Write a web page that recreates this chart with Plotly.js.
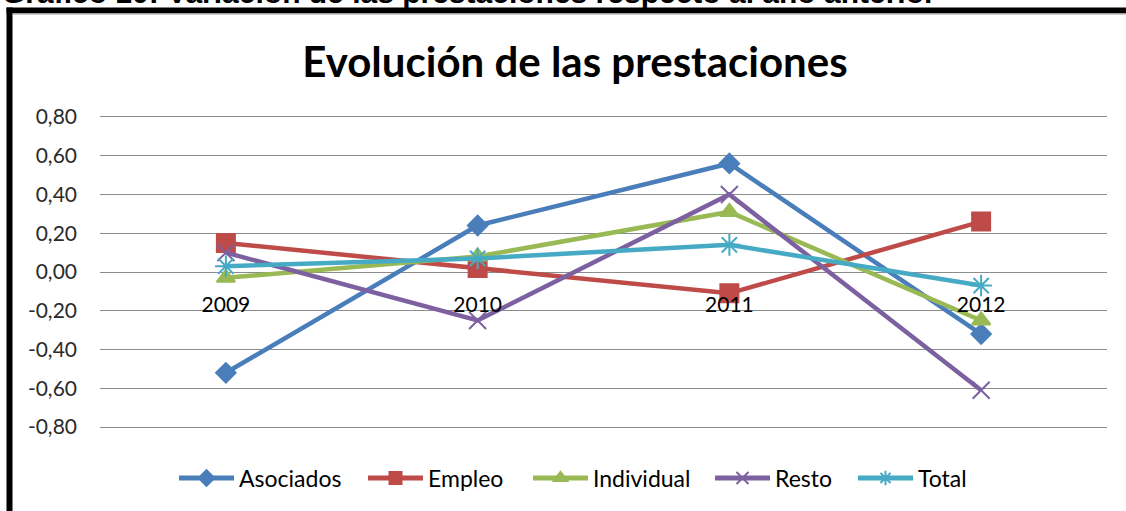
<!DOCTYPE html>
<html>
<head>
<meta charset="utf-8">
<script src="https://cdn.plot.ly/plotly-3.0.1.min.js"></script>
<style>html,body{margin:0;padding:0;background:#fff;}#chart{width:1126px;height:511px;}</style>
</head>
<body>
<div id="chart"></div>
<script>
const years = ['2009', '2010', '2011', '2012'];
const asociados = [-0.52, 0.24, 0.56, -0.32];
const empleo = [0.15, 0.02, -0.11, 0.26];
const individual = [-0.03, 0.08, 0.31, -0.25];
const resto = [0.10, -0.25, 0.40, -0.61];
const total = [0.03, 0.07, 0.14, -0.07];
const seriesNames = ['Asociados', 'Empleo', 'Individual', 'Resto', 'Total'];
const yTickVals = [-0.8, -0.6, -0.4, -0.2, 0, 0.2, 0.4, 0.6, 0.8];
const yTickLabels = ['-0,80', '-0,60', '-0,40', '-0,20', '0,00', '0,20', '0,40', '0,60', '0,80'];
const chartTitle = 'Evolución de las prestaciones';
const captionText = 'Gráfico 10: Variación de las prestaciones respecto al año anterior';

const colors = ['#4A7EBB', '#BE4B48', '#98B954', '#7D60A0', '#46AAC5'];
const symbols = ['diamond', 'square', 'triangle-up', 'x-thin-open', 'asterisk-open'];
const sizes = [15, 18, 16, 17, 18];
const values = [asociados, empleo, individual, resto, total];
const legendIds = ['legend', 'legend2', 'legend3', 'legend4', 'legend5'];
const legendLeftPx = [174, 363, 528, 710, 853];

const traces = values.map((v, i) => ({
  type: 'scatter',
  mode: 'lines+markers',
  name: seriesNames[i],
  legend: legendIds[i],
  x: years,
  y: v,
  line: {color: colors[i], width: 4.5},
  marker: {symbol: symbols[i], size: sizes[i], color: colors[i], line: {color: colors[i], width: 2}}
}));

const W = 1126, H = 511, L = 100, R = 19, T = 115, B = 82;
const pw = W - L - R, ph = H - T - B;
const px2x = p => (p - L) / pw;
const py2y = p => (H - B - p) / ph;

const layout = {
  width: W, height: H,
  margin: {l: L, r: R, t: T, b: B},
  paper_bgcolor: '#ffffff',
  plot_bgcolor: '#ffffff',
  font: {family: 'Lato, sans-serif', size: 21, color: '#1a1a1a'},
  title: {
    text: chartTitle,
    font: {family: 'Lato, sans-serif', size: 42, color: '#000000', weight: 'bold'},
    xref: 'container', yref: 'container',
    x: 575 / W, xanchor: 'center',
    y: 1 - 62 / H, yanchor: 'middle'
  },
  xaxis: {
    type: 'category',
    range: [-0.5, 3.5],
    anchor: 'free',
    position: 0.5,
    showgrid: false,
    zeroline: false,
    showline: false,
    ticks: '',
    ticklabelstandoff: 18,
    tickfont: {family: 'Lato, sans-serif', size: 21, color: '#000000'}
  },
  yaxis: {
    range: [-0.81, 0.81],
    tickvals: yTickVals,
    ticktext: yTickLabels,
    showgrid: true,
    gridcolor: '#8c8c8c',
    gridwidth: 1.2,
    zeroline: false,
    showline: false,
    ticks: '',
    ticklabelstandoff: 22,
    tickfont: {family: 'Lato, sans-serif', size: 21, color: '#2a2a2a'}
  },
  showlegend: true,
  shapes: [
    {type: 'line', xref: 'paper', yref: 'paper', x0: px2x(9.5), x1: px2x(9.5), y0: py2y(7.5), y1: py2y(520), line: {color: '#000000', width: 6}},
    {type: 'line', xref: 'paper', yref: 'paper', x0: px2x(6.5), x1: px2x(1130), y0: py2y(10.5), y1: py2y(10.5), line: {color: '#000000', width: 6}},
    {type: 'line', xref: 'paper', yref: 'paper', x0: px2x(12.5), x1: px2x(1130), y0: py2y(14.2), y1: py2y(14.2), line: {color: '#bdbdbd', width: 1.2}}
  ],
  annotations: [
    {text: captionText, xref: 'paper', yref: 'paper', x: px2x(0), y: py2y(11), xanchor: 'left', yanchor: 'bottom',
     showarrow: false, font: {family: 'Liberation Sans, Arial, sans-serif', size: 30, color: '#000000', weight: 'bold'}}
  ]
};

legendIds.forEach((id, i) => {
  layout[id] = {
    orientation: 'h',
    xref: 'container', yref: 'container',
    x: legendLeftPx[i] / W, xanchor: 'left',
    y: 1 - 478 / H, yanchor: 'middle',
    font: {family: 'Lato, sans-serif', size: 23, color: '#000000'},
    itemwidth: 55,
    itemsizing: 'constant',
    bgcolor: 'rgba(0,0,0,0)'
  };
});

Plotly.newPlot('chart', traces, layout, {displayModeBar: false, responsive: false});
</script>
</body>
</html>
